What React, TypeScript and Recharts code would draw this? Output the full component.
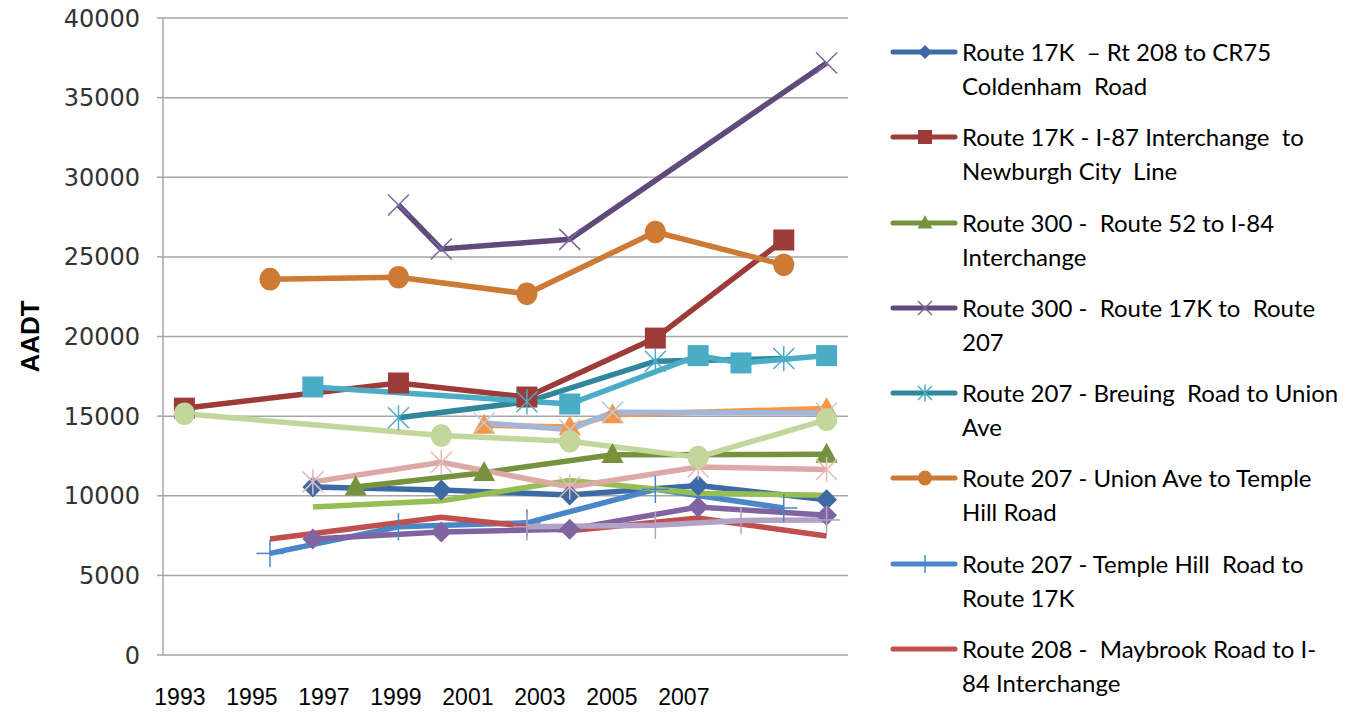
import { LineChart, Line, XAxis, YAxis, CartesianGrid, Legend } from "recharts";

const YEARS = [1993, 1994, 1995, 1996, 1997, 1998, 1999, 2000, 2001, 2002, 2003, 2004, 2005, 2006, 2007, 2008];
const LABEL_YEARS = [1993, 1995, 1997, 1999, 2001, 2003, 2005, 2007];
const Y_TICKS = [0, 5000, 10000, 15000, 20000, 25000, 30000, 35000, 40000];

const _ = null;
// one value per year, 1993..2008
const rt17kCr75 = [_, _, _, 10550, _, _, 10360, _, _, 10050, _, _, 10650, _, _, 9750];
const rt17kI87 = [15500, _, _, _, _, 17080, _, _, 16200, _, _, 19900, _, _, 26060, _];
const rt300Rt52 = [_, _, _, _, 10550, _, _, 11450, _, _, 12580, _, _, _, _, 12600];
const rt300Rt17k = [_, _, _, _, _, 28260, 25500, _, _, 26100, _, _, _, _, _, 37180];
const rt207Breuing = [_, _, _, _, _, 14900, _, _, 15900, _, _, 18450, _, _, 18620, _];
const rt207Union = [_, _, 23600, _, _, 23720, _, _, 22680, _, _, 26560, _, _, 24500, _];
const rt207Temple = [_, _, 6380, _, _, 8050, _, _, 8300, _, _, 10400, _, _, 9230, _];
const rt208Maybrook = [_, _, 7280, _, _, _, 8650, _, _, 7800, _, _, 8600, _, _, 7470];
const extra9 = [_, _, _, 9300, _, _, 9680, _, _, 10950, _, _, 10150, _, _, 10030];
const extra10 = [_, _, _, 7280, _, _, 7720, _, _, 7900, _, _, 9290, _, _, 8780];
const extra11 = [_, _, _, 16830, _, _, _, _, _, 15760, _, _, 18800, 18340, _, 18800];
const extra12 = [_, _, _, _, _, _, _, 14420, _, 14320, 15080, _, _, _, _, 15480];
const extra13 = [_, _, _, _, _, _, _, 14570, _, 14150, 15250, _, _, _, _, 15200];
const extra14 = [_, _, _, 10870, _, _, 12100, _, _, 10550, _, _, 11800, _, _, 11650];
const extra15 = [15150, _, _, _, _, _, 13780, _, _, 13420, _, _, 12420, _, _, 14780];
const extra16 = [_, _, _, _, _, _, _, _, 8050, _, _, 8150, _, 8450, _, 8480];

const SERIES = [
  rt17kCr75, rt17kI87, rt300Rt52, rt300Rt17k, rt207Breuing, rt207Union, rt207Temple, rt208Maybrook,
  extra9, extra10, extra11, extra12, extra13, extra14, extra15, extra16,
];

const SERIES_NAMES = [
  "Route 17K  \u2013 Rt 208 to CR75\nColdenham  Road",
  "Route 17K - I-87 Interchange  to\nNewburgh City  Line",
  "Route 300 -  Route 52 to I-84\nInterchange",
  "Route 300 -  Route 17K to  Route\n207",
  "Route 207 - Breuing  Road to Union\nAve",
  "Route 207 - Union Ave to Temple\nHill Road",
  "Route 207 - Temple Hill  Road to\nRoute 17K",
  "Route 208 -  Maybrook Road to I-\n84 Interchange",
  "Series 9", "Series 10", "Series 11", "Series 12", "Series 13", "Series 14", "Series 15", "Series 16",
];

const COLORS = [
  "#3c6aa5", "#9c3b38", "#76923c", "#604a7b", "#31869b", "#cd7a35", "#4a86c8", "#c0504d",
  "#97be53", "#8064a2", "#4bacc6", "#f79646", "#a4b6d8", "#dda9a7", "#c3d69b", "#b3a2c7",
];
const MARKER_COLORS = [
  "#3c6aa5", "#9c3b38", "#76923c", "#7b68a0", "#4bacc6", "#cd7a35", "#4a86c8", "#c0504d",
  "#97be53", "#8064a2", "#4bacc6", "#f79646", "#b9cde5", "#e6b9b8", "#c3d69b", "#b3a2c7",
];
const MARKERS = [
  "diamond", "square", "triangle", "x", "star", "circle", "plus", "none",
  "none", "diamond", "square", "triangle", "x", "star", "circle", "plus",
];

const data = YEARS.map((year, i) => {
  const row: Record<string, number | null> = { year };
  SERIES.forEach((s, k) => {
    row[`s${k}`] = s[i];
  });
  return row;
});

function Marker({ shape, cx, cy, color, r }: { shape: string; cx: number; cy: number; color: string; r: number }) {
  switch (shape) {
    case "diamond":
      return <polygon points={`${cx},${cy - r} ${cx + r},${cy} ${cx},${cy + r} ${cx - r},${cy}`} fill={color} />;
    case "square":
      return <rect x={cx - r} y={cy - r} width={r * 2} height={r * 2} fill={color} />;
    case "triangle":
      return <polygon points={`${cx},${cy - r * 1.1} ${cx + r * 1.05},${cy + r * 0.8} ${cx - r * 1.05},${cy + r * 0.8}`} fill={color} />;
    case "circle":
      return <ellipse cx={cx} cy={cy} rx={r} ry={r * 1.08} fill={color} />;
    case "x":
      return (
        <g stroke={color} strokeWidth={1.5}>
          <line x1={cx - r} y1={cy - r} x2={cx + r} y2={cy + r} />
          <line x1={cx - r} y1={cy + r} x2={cx + r} y2={cy - r} />
        </g>
      );
    case "star":
      return (
        <g stroke={color} strokeWidth={1.5}>
          <line x1={cx - r} y1={cy - r} x2={cx + r} y2={cy + r} />
          <line x1={cx - r} y1={cy + r} x2={cx + r} y2={cy - r} />
          <line x1={cx} y1={cy - r * 1.2} x2={cx} y2={cy + r * 1.2} />
        </g>
      );
    case "plus":
      return (
        <g stroke={color} strokeWidth={1.5}>
          <line x1={cx} y1={cy - r * 1.3} x2={cx} y2={cy + r * 1.3} />
          <line x1={cx - r * 1.3} y1={cy} x2={cx + r * 1.3} y2={cy} />
        </g>
      );
    default:
      return null;
  }
}

const makeDot = (k: number) => (props: any) => {
  const { cx, cy, index, value } = props;
  if (value == null || cx == null || cy == null || MARKERS[k] === "none") {
    return <g key={`d${k}-${index}`} />;
  }
  return (
    <g key={`d${k}-${index}`}>
      <Marker shape={MARKERS[k]} cx={cx} cy={cy} color={MARKER_COLORS[k]} r={10.5} />
    </g>
  );
};

function LegendContent({ payload }: any) {
  const items = [...(payload || [])]
    .filter((e: any) => String(e.dataKey).startsWith("s"))
    .sort((a: any, b: any) => Number(String(a.dataKey).slice(1)) - Number(String(b.dataKey).slice(1)));
  return (
    <div style={{ fontFamily: "Lato, 'Liberation Sans', sans-serif", fontSize: 24, color: "#000" }}>
      {items.map((entry: any, i: number) => {
        const k = Number(String(entry.dataKey).slice(1));
        return (
          <div key={entry.dataKey} style={{ display: "flex", alignItems: "flex-start", marginTop: i === 0 ? 0 : 17.3 }}>
            <svg width={72} height={34} style={{ flex: "none" }}>
              <line x1={3} y1={17} x2={65} y2={17} stroke={COLORS[k]} strokeWidth={5} strokeLinecap="round" />
              <Marker shape={MARKERS[k]} cx={35} cy={17} color={MARKER_COLORS[k]} r={7} />
            </svg>
            <div style={{ whiteSpace: "pre", lineHeight: "34px" }}>{SERIES_NAMES[k]}</div>
          </div>
        );
      })}
    </div>
  );
}

function AadtLabel({ viewBox }: any) {
  const x = viewBox.x + 22;
  const y = viewBox.y + viewBox.height / 2;
  return (
    <text
      x={x}
      y={y}
      transform={`rotate(-90 ${x} ${y})`}
      textAnchor="middle"
      dominantBaseline="central"
      style={{ fontFamily: "'Liberation Sans', sans-serif", fontWeight: 700, fontSize: 26, fill: "#000" }}
    >
      AADT
    </text>
  );
}

export default function App() {
  return (
    <LineChart width={1352} height={703} data={data} margin={{ top: 10, right: 512, left: 0, bottom: 0 }}>
      <CartesianGrid vertical={false} stroke="#a6a6a6" strokeWidth={1.5} />
      {/* years of the data points: one slot per year, points in the slot centres */}
      <XAxis dataKey="year" type="number" domain={[1992.5, 2008.5]} orientation="top" height={0} hide />
      {/* the printed year labels sit on their own, tighter spacing */}
      <XAxis
        xAxisId="lbl"
        dataKey="year"
        type="number"
        orientation="bottom"
        domain={[1992.53, 2011.56]}
        allowDataOverflow
        ticks={LABEL_YEARS}
        interval={0}
        height={56}
        axisLine={false}
        tickLine={false}
        tickSize={0}
        tickMargin={34}
        tick={{ fontFamily: "'Liberation Sans', sans-serif", fontSize: 23, fill: "#000" }}
      />
      <YAxis
        width={155}
        domain={[0, 40000]}
        ticks={Y_TICKS}
        interval={0}
        axisLine={{ stroke: "#a6a6a6", strokeWidth: 1.5 }}
        tickLine={{ stroke: "#a6a6a6", strokeWidth: 1.5 }}
        tickSize={6}
        tickMargin={17}
        tick={{ fontFamily: "'DejaVu Sans', sans-serif", fontSize: 24, fill: "#333" }}
        label={{ content: AadtLabel }}
      />
      <Legend
        layout="vertical"
        align="center"
        verticalAlign="middle"
        wrapperStyle={{ left: 882, top: 27, width: 470 }}
        content={LegendContent}
      />
      {SERIES.map((_s, k) => (
        <Line
          key={k}
          dataKey={`s${k}`}
          name={SERIES_NAMES[k]}
          stroke={COLORS[k]}
          strokeWidth={5.5}
          dot={makeDot(k)}
          activeDot={false}
          connectNulls
          legendType={k < 8 ? "line" : "none"}
          isAnimationActive={false}
        />
      ))}
      {/* empty series that only ties the label axis to the chart */}
      <Line xAxisId="lbl" dataKey="labelAxis" stroke="none" dot={false} activeDot={false} legendType="none" isAnimationActive={false} />
    </LineChart>
  );
}
